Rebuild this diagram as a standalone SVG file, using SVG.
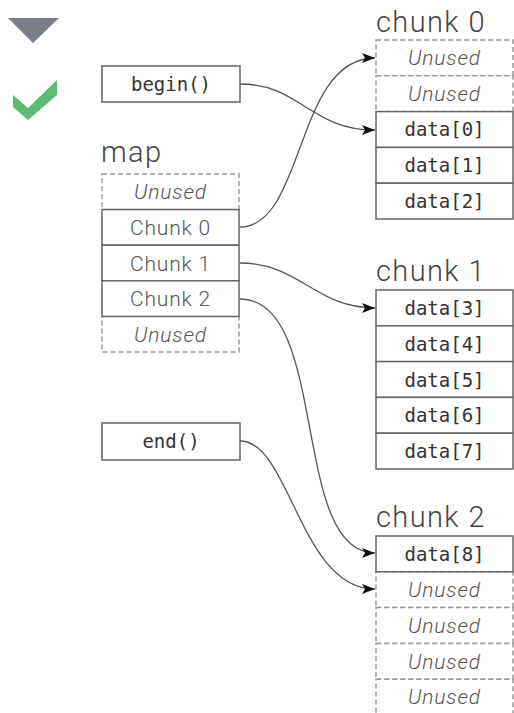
<svg xmlns="http://www.w3.org/2000/svg" width="514" height="713" viewBox="0 0 514 713">
<style>
.solid{fill:#fff;stroke:#666;stroke-width:1.5}
.dash{fill:#fff;stroke:#999;stroke-width:1.5;stroke-dasharray:5,3}
.mono{font-family:"DejaVu Sans Mono","Liberation Mono",monospace;font-size:19px;fill:#333;text-anchor:middle}
.ital{font-family:Roboto,"Liberation Sans",sans-serif;font-style:italic;font-weight:300;font-size:21px;fill:#555;text-anchor:middle;letter-spacing:0.8px}
.reg{font-family:Roboto,"Liberation Sans",sans-serif;font-weight:300;font-size:21px;fill:#555;text-anchor:middle;letter-spacing:0.8px}
.head{font-family:Roboto,"Liberation Sans",sans-serif;font-weight:300;font-size:29px;fill:#444;letter-spacing:1.4px}
.conn{fill:none;stroke:#555;stroke-width:1.3;marker-end:url(#arr)}
</style>
<defs>
<marker id="arr" markerUnits="userSpaceOnUse" markerWidth="14" markerHeight="10" refX="13" refY="5" orient="auto">
<path d="M0,0 L13,5 L0,10 L3,5 z" fill="#111"/>
</marker>
</defs>
<g id="icons">
<polygon points="8,18 59,18 33,43" fill="#7a7e87"/>
<polygon points="13,95 28,108 57,80 57,95 28,120 13,107" fill="#5dbb77"/>
</g>
<g id="begin">
<rect class="solid" x="102" y="66" width="138" height="36"/>
<text class="mono" x="171" y="91">begin()</text>
</g>
<g id="end">
<rect class="solid" x="102" y="423" width="138" height="37"/>
<text class="mono" x="171" y="448">end()</text>
</g>
<g id="map">
<text class="head" x="101" y="162">map</text>
<rect class="dash" x="102" y="174" width="137" height="35.6"/>
<rect class="dash" x="102" y="316.4" width="137" height="35.6"/>
<rect class="solid" x="102" y="209.6" width="137" height="35.6"/>
<rect class="solid" x="102" y="245.2" width="137" height="35.6"/>
<rect class="solid" x="102" y="280.8" width="137" height="35.6"/>
<text class="ital" x="170.5" y="199">Unused</text>
<text class="reg" x="170.5" y="235">Chunk 0</text>
<text class="reg" x="170.5" y="270.5">Chunk 1</text>
<text class="reg" x="170.5" y="306">Chunk 2</text>
<text class="ital" x="170.5" y="342">Unused</text>
</g>
<g id="chunk0">
<text class="head" x="376" y="32">chunk 0</text>
<rect class="dash" x="376" y="40" width="137" height="35.8"/>
<rect class="dash" x="376" y="75.8" width="137" height="35.8"/>
<rect class="solid" x="376" y="111.6" width="137" height="35.8"/>
<rect class="solid" x="376" y="147.4" width="137" height="35.8"/>
<rect class="solid" x="376" y="183.2" width="137" height="35.8"/>
<text class="ital" x="444.5" y="65">Unused</text>
<text class="ital" x="444.5" y="101">Unused</text>
<text class="mono" x="444.5" y="136">data[0]</text>
<text class="mono" x="444.5" y="172">data[1]</text>
<text class="mono" x="444.5" y="208">data[2]</text>
</g>
<g id="chunk1">
<text class="head" x="376" y="281">chunk 1</text>
<rect class="solid" x="376" y="290" width="137" height="35.8"/>
<rect class="solid" x="376" y="325.8" width="137" height="35.8"/>
<rect class="solid" x="376" y="361.6" width="137" height="35.8"/>
<rect class="solid" x="376" y="397.4" width="137" height="35.8"/>
<rect class="solid" x="376" y="433.2" width="137" height="35.8"/>
<text class="mono" x="444.5" y="315">data[3]</text>
<text class="mono" x="444.5" y="350.5">data[4]</text>
<text class="mono" x="444.5" y="386.5">data[5]</text>
<text class="mono" x="444.5" y="422">data[6]</text>
<text class="mono" x="444.5" y="458">data[7]</text>
</g>
<g id="chunk2">
<text class="head" x="376" y="527">chunk 2</text>
<rect class="dash" x="376" y="571.8" width="137" height="35.8"/>
<rect class="dash" x="376" y="607.6" width="137" height="35.8"/>
<rect class="dash" x="376" y="643.4" width="137" height="35.8"/>
<rect class="dash" x="376" y="679.2" width="137" height="35.8"/>
<rect class="solid" x="376" y="536" width="137" height="35.8"/>
<text class="mono" x="444.5" y="561">data[8]</text>
<text class="ital" x="444.5" y="597">Unused</text>
<text class="ital" x="444.5" y="633">Unused</text>
<text class="ital" x="444.5" y="668.5">Unused</text>
<text class="ital" x="444.5" y="704">Unused</text>
</g>
<g id="connectors">
<path class="conn" d="M240,84 C300,84 310,130 375,130"/>
<path class="conn" d="M240,227 C305,227 295,58 375,58"/>
<path class="conn" d="M240,263 C300,263 315,308 375,308"/>
<path class="conn" d="M240,299 C330,299 290,553 375,553"/>
<path class="conn" d="M240,441 C290,441 300,589 375,589"/>
</g>
</svg>
